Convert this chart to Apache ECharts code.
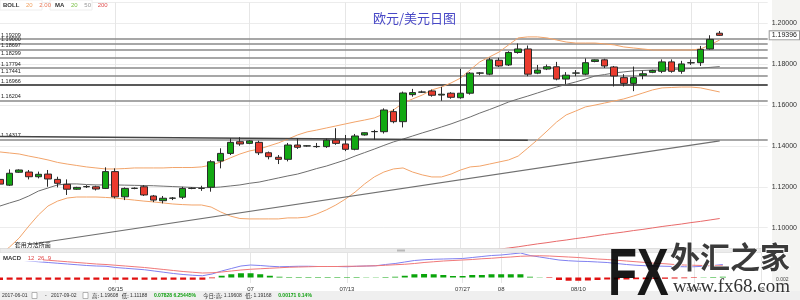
<!DOCTYPE html>
<html><head><meta charset="utf-8">
<script src="https://cdn.jsdelivr.net/npm/echarts@6.0.0/dist/echarts.min.js"></script>
<style>html,body{margin:0;padding:0;background:#fff}#c{width:800px;height:300px}</style>
</head><body><div id="c"></div>
<script>
const dates = ['06/01','06/02','06/04','06/05','06/06','06/07','06/08','06/09','06/11','06/12',
'06/13','06/14','06/15','06/16','06/18','06/19','06/20','06/21','06/22','06/23',
'06/25','06/26','06/27','06/28','06/29','06/30','07/02','07/03','07/04','07/05',
'07/06','07/07','07/09','07/10','07/11','07/12','07/13','07/14','07/16','07/17',
'07/18','07/19','07/20','07/21','07/23','07/24','07/25','07/26','07/27','07/28',
'07/30','07/31','08/01','08/02','08/03','08/04','08/06','08/07','08/08','08/09',
'08/10','08/11','08/13','08/14','08/15','08/16','08/17','08/18','08/20','08/21',
'08/22','08/23','08/24','08/25','08/27','08/28','08/29','08/30','08/31','09/01','09/03'];

const opens = [1.1236,1.1208,1.1271,1.1272,1.1249,1.1262,1.1236,1.1212,1.1188,1.1200,
1.1200,1.1192,1.1274,1.1151,1.1192,1.1200,1.1155,1.1132,1.1144,1.1149,
1.1192,1.1192,1.1198,1.1326,1.1363,1.1420,1.1412,1.1417,1.1366,1.1344,
1.1334,1.1404,1.1399,1.1396,1.1396,1.1428,1.1409,1.1383,1.1453,1.1469,
1.1469,1.1567,1.1518,1.1650,1.1662,1.1668,1.1648,1.1657,1.1635,1.1657,
1.1755,1.1750,1.1818,1.1795,1.1856,1.1873,1.1755,1.1775,1.1786,1.1726,
1.1755,1.1750,1.1812,1.1820,1.1785,1.1733,1.1705,1.1744,1.1759,1.1764,
1.1810,1.1764,1.1805,1.1806,1.1873,1.1950];
const closes = [1.1213,1.1266,1.1282,1.1249,1.1261,1.1238,1.1217,1.1188,1.1197,1.1201,
1.1189,1.1274,1.1151,1.1192,1.1193,1.1160,1.1135,1.1144,1.1145,1.1192,
1.1193,1.1192,1.1322,1.1363,1.1417,1.1409,1.1424,1.1366,1.1347,1.1334,
1.1404,1.1393,1.1400,1.1397,1.1428,1.1412,1.1383,1.1448,1.1464,1.1470,
1.1575,1.1518,1.1658,1.1660,1.1663,1.1647,1.1652,1.1637,1.1657,1.1755,
1.1756,1.1820,1.1790,1.1856,1.1873,1.1750,1.1770,1.1786,1.1726,1.1745,
1.1756,1.1806,1.1820,1.1790,1.1741,1.1705,1.1733,1.1752,1.1768,1.1810,
1.1764,1.1800,1.1806,1.1871,1.1920,1.19396];
const lows = [1.1205,1.1204,1.1268,1.1236,1.1241,1.1200,1.1197,1.1160,1.1185,1.1194,
1.1182,1.1189,1.1143,1.1135,1.1188,1.1155,1.1125,1.11188,1.1135,1.1140,
1.1188,1.1180,1.1176,1.1290,1.1355,1.1400,1.1408,1.1355,1.1334,1.1311,
1.1324,1.1385,1.1396,1.1390,1.1390,1.1405,1.1374,1.1378,1.1450,1.1430,
1.1460,1.1510,1.1490,1.1640,1.1658,1.1640,1.1620,1.1630,1.1630,1.1650,
1.1745,1.1745,1.1785,1.1790,1.1850,1.1740,1.1750,1.1770,1.1720,1.1700,
1.1740,1.1745,1.1808,1.1780,1.1690,1.1690,1.1667,1.1725,1.1755,1.1755,
1.1757,1.1752,1.1795,1.1790,1.1870,1.1937];
const highs = [1.1245,1.1285,1.1285,1.1282,1.1274,1.1282,1.1249,1.1236,1.1200,1.1208,
1.1205,1.1295,1.1290,1.1197,1.1197,1.1208,1.1160,1.1155,1.1150,1.1200,
1.1197,1.1205,1.1330,1.1388,1.1437,1.1442,1.1428,1.1425,1.1372,1.1355,
1.1414,1.1437,1.1403,1.1414,1.1435,1.1486,1.1453,1.1458,1.1466,1.1478,
1.1583,1.1580,1.1665,1.1678,1.1670,1.1675,1.1688,1.1662,1.1776,1.1760,
1.1760,1.1830,1.1830,1.1862,1.1900,1.1890,1.1795,1.1797,1.1810,1.1760,
1.1770,1.1827,1.1822,1.1825,1.1790,1.1750,1.1787,1.1767,1.1772,1.1822,
1.1822,1.1815,1.1822,1.1888,1.1940,1.19608];

const bollUpper = [1.1370,1.1365,1.1360,1.1350,1.1341,1.1331,1.1319,1.1311,1.1304,1.1297,
1.1292,1.1287,1.1287,1.1289,1.1292,1.1292,1.1292,1.1292,1.1294,1.1294,
1.1294,1.1297,1.1306,1.1321,1.1341,1.1360,1.1375,1.1384,1.1399,1.1414,
1.1433,1.1453,1.1468,1.1477,1.1487,1.1497,1.1507,1.1517,1.1526,1.1536,
1.1556,1.1575,1.1609,1.1629,1.1648,1.1673,1.1687,1.1707,1.1731,1.1771,
1.1810,1.1834,1.1858,1.1893,1.1927,1.1932,1.1932,1.1927,1.1917,1.1907,
1.1902,1.1902,1.1902,1.1898,1.1893,1.1883,1.1878,1.1873,1.1868,1.1868,
1.1868,1.1868,1.1868,1.1873,1.1893,1.1917];
const bollMid = [1.1106,1.1121,1.1135,1.1155,1.1179,1.1194,1.1209,1.1214,1.1214,1.1211,
1.1209,1.1209,1.1209,1.1208,1.1207,1.1206,1.1205,1.1203,1.1201,1.1199,
1.1197,1.1196,1.1196,1.1199,1.1204,1.1209,1.1217,1.1223,1.1233,1.1243,
1.1253,1.1262,1.1275,1.1289,1.1301,1.1316,1.1331,1.1350,1.1367,1.1384,
1.1402,1.1419,1.1433,1.1448,1.1463,1.1477,1.1492,1.1507,1.1524,1.1541,
1.1560,1.1577,1.1595,1.1614,1.1629,1.1643,1.1658,1.1673,1.1687,1.1700,
1.1712,1.1726,1.1741,1.1748,1.1756,1.1761,1.1766,1.1768,1.1770,1.1770,
1.1773,1.1775,1.1778,1.1780,1.1783,1.1787];
const bollLower = [1.0867,1.0906,1.0950,1.1008,1.1062,1.1106,1.1130,1.1145,1.1150,1.1150,
1.1150,1.1148,1.1145,1.1140,1.1135,1.1130,1.1126,1.1121,1.1116,1.1113,
1.1111,1.1111,1.1101,1.1077,1.1057,1.1045,1.1043,1.1043,1.1043,1.1043,
1.1048,1.1048,1.1052,1.1067,1.1087,1.1111,1.1140,1.1174,1.1214,1.1248,
1.1272,1.1287,1.1292,1.1272,1.1258,1.1248,1.1248,1.1262,1.1282,1.1297,
1.1301,1.1311,1.1321,1.1331,1.1350,1.1389,1.1429,1.1472,1.1516,1.1551,
1.1570,1.1590,1.1599,1.1609,1.1619,1.1629,1.1643,1.1658,1.1673,1.1683,
1.1685,1.1687,1.1687,1.1683,1.1673,1.1663];
const ma200Dates = dates.slice(50, 76);
const ma200 = [1.0881,1.0888,1.0895,1.0901,1.0907,1.0914,1.0921,1.0927,1.0934,1.0940,
1.0947,1.0953,1.0960,1.0967,1.0973,1.0979,1.0986,1.0992,1.0999,1.1006,
1.1012,1.1018,1.1025,1.1031,1.1038,1.1045];

const trendDates = ['06/05','08/28'];
const trendValues = [1.0918, 1.1424];
const slopeDates = ['06/01','08/04'];
const slopeValues = [1.1445, 1.1427];

const srLevels = [1.19209,1.19000,1.18697,1.18299,1.17794,1.17441,1.16966,1.16204,1.14317];
const lastPrice = 1.19396;

const macdDif = [0.0078,0.0074,0.0070,0.0066,0.0063,0.0060,0.0057,0.0054,0.0051,0.0048,
0.0046,0.0045,0.0040,0.0037,0.0034,0.0031,0.0026,0.0021,0.0016,0.0012,
0.0009,0.0007,0.0014,0.0026,0.0036,0.0046,0.0050,0.0048,0.0045,0.0043,
0.0044,0.0045,0.0045,0.0044,0.0044,0.0044,0.0043,0.0045,0.0046,0.0047,
0.0052,0.0056,0.0062,0.0068,0.0071,0.0073,0.0074,0.0075,0.0076,0.0080,
0.0084,0.0088,0.0090,0.0094,0.0098,0.0088,0.0082,0.0076,0.0070,0.0067,
0.0065,0.0064,0.0062,0.0060,0.0056,0.0052,0.0049,0.0047,0.0046,0.0045,
0.0044,0.0043,0.0043,0.0045,0.0048,0.0052];
const macdDea = [0.0082,0.0080,0.0078,0.0075,0.0072,0.0069,0.0066,0.0063,0.0060,0.0057,
0.0054,0.0052,0.0049,0.0046,0.0043,0.0040,0.0036,0.0032,0.0028,0.0024,
0.0021,0.0018,0.0019,0.0022,0.0026,0.0030,0.0033,0.0035,0.0037,0.0039,
0.0041,0.0042,0.0043,0.0044,0.0044,0.0044,0.0045,0.0045,0.0046,0.0047,
0.0049,0.0051,0.0053,0.0056,0.0060,0.0063,0.0066,0.0068,0.0070,0.0072,
0.0075,0.0077,0.0080,0.0082,0.0085,0.0086,0.0087,0.0086,0.0084,0.0082,
0.0080,0.0077,0.0074,0.0072,0.0069,0.0066,0.0063,0.0060,0.0057,0.0055,
0.0052,0.0050,0.0049,0.0048,0.0048,0.0048];
const macdHist = [-0.0010,-0.0009,-0.0009,-0.0009,-0.0009,-0.0009,-0.0009,-0.0009,-0.0009,-0.0009,
-0.0009,-0.0009,-0.0009,-0.0009,-0.0009,-0.0009,-0.0009,-0.0009,-0.0009,-0.0009,
-0.0009,-0.0009,-0.0003,0.0007,0.0013,0.0017,0.0017,0.0013,0.0007,0.0003,
0.0002,0.0002,0.0002,0.0002,0.0002,0.0002,0.0002,0.0002,0.0001,0.0001,
0.0002,0.0003,0.0007,0.0013,0.0014,0.0013,0.0010,0.0006,0.0006,0.0010,
0.0010,0.0013,0.0013,0.0013,0.0013,0.0003,0.0001,-0.0002,-0.0010,-0.0013,
-0.0013,-0.0012,-0.0010,-0.0008,-0.0008,-0.0008,-0.0007,-0.0007,-0.0006,-0.0005,
-0.0004,-0.0003,-0.0002,0.0001,0.0002,0.0003];

const tickIdx = [12,26,36,48,52,60,72,79];
const tickText = ['06/15','07','07/13','07/27','08','08/10','08/24','09'];
const showTick = (i) => tickIdx.indexOf(i) >= 0;

const chart = echarts.init(document.getElementById('c'), null, {renderer:'canvas'});
const numFont = 'Liberation Sans, Arial, sans-serif';
const splitLineX = {show:true, interval:(i)=>showTick(i), lineStyle:{color:'#e6e6e6', width:1}};

const srData = srLevels.map(v => {
  const item = {yAxis: v};
  if (Math.abs(v - 1.16966) < 1e-6) item.lineStyle = {color:'#222', width:1.5};
  return item;
});
srData.push({yAxis: lastPrice, lineStyle:{color:'rgba(0,0,0,0)', width:0}, label:{show:true, position:'end', distance:2, fontSize:7, color:'#222',
  backgroundColor:'#fff', borderColor:'#999', borderWidth:1, padding:[1,2,0,2], formatter:(p)=>Number(p.value).toFixed(5)}});

const stText = (x, t) => ({type:'text', z:11, x:x, y:296, style:{text:t, fontSize:5, verticalAlign:'middle', fill:'#333', fontFamily:numFont}});
const stRich = {
  k:{fontSize:5.5, fill:'#333', fontFamily:'Noto Sans CJK SC'},
  n:{fontSize:5, fill:'#333', fontFamily:numFont},
  g:{fontSize:5, fill:'#10a010', fontWeight:'bold', fontFamily:numFont}
};

const option = {
  animation:false,
  textStyle:{fontFamily:numFont},
  title:{text:'欧元/美元日图', left:368, top:7, textStyle:{fontFamily:'Noto Sans CJK SC', fontSize:13, fontWeight:'normal', color:'#4848c6'}},
  grid:[
    {left:0, right:29, top:2.5, height:245.7},
    {left:0, right:29, top:253, height:30}
  ],
  xAxis:[
    {type:'category', gridIndex:0, data:dates, boundaryGap:false, axisLine:{show:false}, axisTick:{show:false}, axisLabel:{show:false}, splitLine:splitLineX},
    {type:'category', gridIndex:1, data:dates, boundaryGap:false, axisLine:{show:false}, axisTick:{show:false},
      axisLabel:{show:true, interval:(i)=>showTick(i), formatter:(v,i)=>tickText[tickIdx.indexOf(i)], fontSize:6, color:'#333', margin:3},
      splitLine:splitLineX}
  ],
  yAxis:[
    {type:'value', gridIndex:0, position:'right', min:1.09, max:1.21, splitNumber:6,
      axisLine:{show:false}, axisTick:{show:false},
      axisLabel:{fontSize:7, color:'#333', margin:4, showMinLabel:false, showMaxLabel:false, formatter:(v)=>v.toFixed(5)},
      splitLine:{lineStyle:{color:'#ececec'}}},
    {type:'value', gridIndex:1, min:-0.0022, max:0.0098, show:false}
  ],
  series:[
    {type:'line', xAxisIndex:0, yAxisIndex:0, data:bollUpper, symbol:'none', lineStyle:{color:'#f2a46a', width:1}, z:2},
    {type:'line', xAxisIndex:0, yAxisIndex:0, data:bollLower, symbol:'none', lineStyle:{color:'#f2a46a', width:1}, z:2},
    {type:'line', xAxisIndex:0, yAxisIndex:0, data:bollMid, symbol:'none', lineStyle:{color:'#6e6e6e', width:1}, z:2},
    {type:'line', xAxisIndex:0, yAxisIndex:0, data:ma200Dates.map((d,i)=>[d, ma200[i]]), symbol:'none', lineStyle:{color:'#e86a6a', width:1}, z:2},
    {type:'line', xAxisIndex:0, yAxisIndex:0, data:trendDates.map((d,i)=>[d, trendValues[i]]), symbol:'none', lineStyle:{color:'#707070', width:1.2}, z:2,
      markPoint:{symbol:'circle', symbolSize:0, data:[{coord:[trendDates[0], trendValues[0]], label:{show:true, position:'inside', offset:[4,0], formatter:'套用方法所画', fontSize:6, color:'#222', fontFamily:'Noto Sans CJK SC'}}]}},
    {type:'line', xAxisIndex:0, yAxisIndex:0, data:slopeDates.map((d,i)=>[d, slopeValues[i]]), symbol:'none', lineStyle:{color:'#444', width:1.5}, z:2},
    {type:'candlestick', xAxisIndex:0, yAxisIndex:0, barWidth:7, z:3,
      data:opens.map((o,i)=>[o, closes[i], lows[i], highs[i]]),
      itemStyle:{color:'#12a812', color0:'#ea3b2e', borderColor:'#2b2b2b', borderColor0:'#2b2b2b', borderWidth:1},
      markLine:{symbol:['none','none'], silent:true, animation:false, precision:5, z:1,
        lineStyle:{color:'#8a8a8a', width:1.5, type:'solid'},
        label:{position:'insideStartTop', distance:1, fontSize:5.5, color:'#222', formatter:(p)=>Number(p.value).toFixed(5)},
        data:srData}},
    {type:'bar', xAxisIndex:1, yAxisIndex:1, barWidth:6, z:2,
      data:macdHist.map(v=>({value:v, itemStyle:{color: v>=0 ? '#0aa40a' : '#e01010'}}))},
    {type:'line', xAxisIndex:1, yAxisIndex:1, data:macdDif, symbol:'none', lineStyle:{color:'#8080f0', width:1}, z:3},
    {type:'line', xAxisIndex:1, yAxisIndex:1, data:macdDea, symbol:'none', lineStyle:{color:'#f07878', width:1}, z:3}
  ],
  graphic:[
    {type:'rect', z:-10, shape:{x:772, y:0, width:28, height:291}, style:{fill:'#f4f4f2'}},
    {type:'rect', z:10, shape:{x:0, y:248.5, width:772, height:4}, style:{fill:'#ececec', stroke:'#d0d0d0', lineWidth:0.5}},
    {type:'rect', z:11, shape:{x:397, y:249.5, width:8, height:2}, style:{fill:'#b8b8b8'}},
    {type:'rect', z:10, shape:{x:0, y:0, width:42, height:10}, style:{fill:'#fff', stroke:'#eeeeee', lineWidth:1}},
    {type:'text', z:11, x:3, y:5, style:{text:'{a|BOLL}  {b|20}  {c|2.00}', verticalAlign:'middle', rich:{a:{fontSize:6, fontWeight:'bold', fill:'#333'}, b:{fontSize:6, fill:'#f0a060'}, c:{fontSize:6, fill:'#e87858'}}}},
    {type:'rect', z:10, shape:{x:50, y:0, width:42, height:10}, style:{fill:'#fff', stroke:'#eeeeee', lineWidth:1}},
    {type:'text', z:11, x:55, y:5, style:{text:'{a|MA}  {g|20}  {k|50}  {r|200}', verticalAlign:'middle', rich:{a:{fontSize:6, fontWeight:'bold', fill:'#333'}, g:{fontSize:6, fill:'#7cc048'}, k:{fontSize:6, fill:'#999'}, r:{fontSize:6, fill:'#e05050'}}}},
    {type:'rect', z:10, shape:{x:0, y:253.5, width:43, height:8}, style:{fill:'#fff'}},
    {type:'text', z:11, x:3, y:258, style:{text:'{a|MACD}  {r|12  26  9}', verticalAlign:'middle', rich:{a:{fontSize:6, fontWeight:'bold', fill:'#333'}, r:{fontSize:6, fill:'#e04848'}}}},
    {type:'rect', z:10, shape:{x:0, y:291, width:800, height:9}, style:{fill:'#efefef'}},
    stText(2, '2017-06-01'),
    {type:'rect', z:11, shape:{x:32, y:292.5, width:5, height:6}, style:{fill:'#fff', stroke:'#888', lineWidth:0.6}},
    stText(45, '-'),
    stText(51, '2017-09-02'),
    {type:'rect', z:11, shape:{x:83, y:292.5, width:5, height:6}, style:{fill:'#fff', stroke:'#888', lineWidth:0.6}},
    {type:'text', z:11, x:92, y:296, style:{text:'{k|高: }{n|1.19608} {k|低: }{n|1.11188}  {g|0.07828 6.25445%}', verticalAlign:'middle', rich:stRich}},
    {type:'text', z:11, x:203, y:296, style:{text:'{k|今日:高: }{n|1.19608} {k|低: }{n|1.19168}  {g|0.00171 0.14%}', verticalAlign:'middle', rich:stRich}},
    {type:'text', z:20, x:608, y:244, scaleX:0.72, style:{text:'FX', font:'bold 66px "Liberation Sans", Arial, sans-serif', opacity:0.9,
      fill:new echarts.graphic.LinearGradient(0,0,0,1,[{offset:0,color:'#3f92e2'},{offset:1,color:'#5a4db2'}])}},
    {type:'text', z:20, x:670, y:242, style:{text:'外汇之家', font:'bold 30px "Noto Sans CJK SC"', fill:'#3a3a3a', stroke:'#fff', lineWidth:1.5}},
    {type:'text', z:20, x:673, y:278, style:{text:'www.fx68.com', font:'19px "Liberation Serif", "DejaVu Serif", serif', fill:'#333', stroke:'#fff', lineWidth:1}},
    {type:'text', z:21, x:776, y:277, style:{text:'0.002', fontSize:5, fill:'#444'}}
  ]
};
chart.setOption(option);
</script>
</body></html>
